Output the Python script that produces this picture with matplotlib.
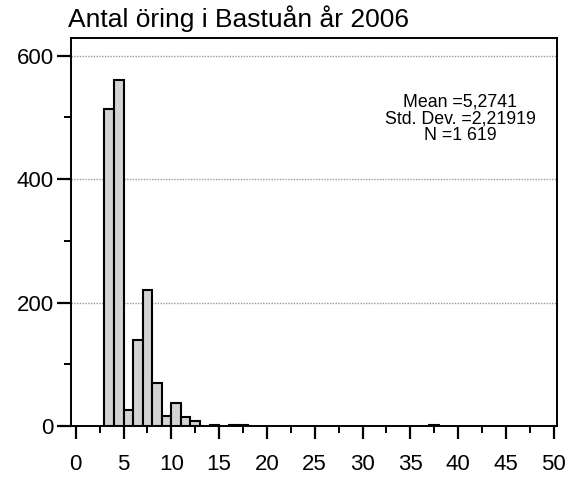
import matplotlib
matplotlib.use("Agg")
import matplotlib.pyplot as plt
from matplotlib.ticker import MultipleLocator

plt.rcParams['font.family'] = ['Liberation Sans', 'DejaVu Sans']

# Data (bin left edges, width 1)
bin_left = [3, 4, 5, 6, 7, 8, 9, 10, 11, 12, 14, 16, 17, 37]
counts = [513, 560, 26, 139, 220, 70, 16, 38, 15, 8, 1, 2, 2, 1]
title = "Antal öring i Bastuån år 2006"
stats_lines = ["Mean =5,2741", "Std. Dev. =2,21919", "N =1\u00a0619"]
x_ticks = list(range(0, 51, 5))
y_ticks = [0, 200, 400, 600]

fig = plt.figure(figsize=(5.75, 4.79), dpi=100)
ax = fig.add_axes([71/575, 1-426/479, (557-71)/575, (426-37.5)/479])

ax.bar(bin_left, counts, width=1, align='edge', color='#d3d3d3',
       edgecolor='black', linewidth=1.5, zorder=3)

ax.set_xlim(-0.5, 50.35)
ax.set_ylim(0, 629.5)
ax.set_xticks(x_ticks)
ax.xaxis.set_minor_locator(MultipleLocator(2.5))
ax.set_yticks(y_ticks)
ax.yaxis.set_minor_locator(MultipleLocator(100))

ax.yaxis.grid(True, which='major', linestyle=(0, (1, 1)), color='#999999', linewidth=1.0)
ax.set_axisbelow(True)

for s in ax.spines.values():
    s.set_linewidth(1.4)
    s.set_color('black')

ax.tick_params(axis='x', which='major', length=9.4, width=1.6, pad=11, labelsize=16, direction='out')
ax.tick_params(axis='x', which='minor', length=4.8, width=1.4, direction='out')
ax.tick_params(axis='y', which='major', length=10, width=1.6, pad=2.5, labelsize=16, direction='out')
ax.tick_params(axis='y', which='minor', length=5.4, width=1.4, direction='out')

fig.text(68/575, 1-27/479, title, fontsize=19, ha='left', va='baseline')

for i, line in enumerate(stats_lines):
    fig.text(460/575, 1-(102 + 17*i)/479, line, fontsize=12.8, ha='center', va='center')

fig.savefig('out.png', dpi=100)
